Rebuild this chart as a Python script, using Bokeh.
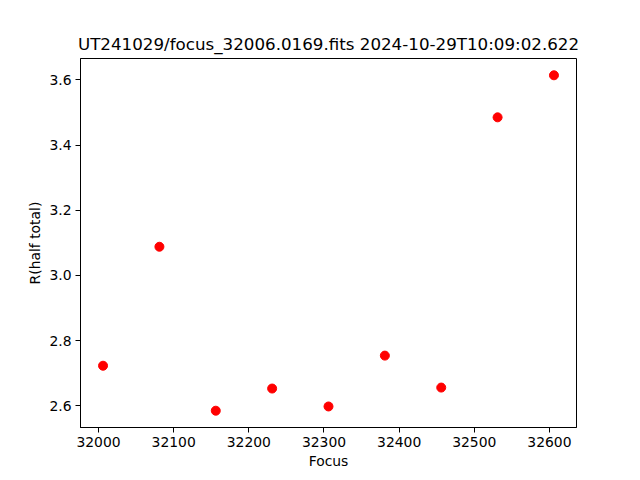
from bokeh.plotting import figure
from bokeh.models import FixedTicker, Range1d
from bokeh.embed import file_html
from bokeh.resources import INLINE

focus = [32006, 32081, 32156, 32231, 32306, 32381, 32456, 32531, 32606]
r_half = [2.723, 3.088, 2.585, 2.653, 2.598, 2.754, 2.656, 3.485, 3.614]
x_ticks = [32000, 32100, 32200, 32300, 32400, 32500, 32600]
y_ticks = [2.6, 2.8, 3.0, 3.2, 3.4, 3.6]
y_labels = {2.6: "2.6", 2.8: "2.8", 3.0: "3.0", 3.2: "3.2", 3.4: "3.4", 3.6: "3.6"}
title = "UT241029/focus_32006.0169.fits 2024-10-29T10:09:02.622"

FONT = "DejaVu Sans"

p = figure(width=624, height=472, output_backend="svg", toolbar_location=None,
           title=title, frame_width=496, frame_height=369,
           min_border_left=80, min_border_right=48, min_border_top=58, min_border_bottom=45,
           x_range=Range1d(31976, 32636), y_range=Range1d(2.5335, 3.6655))

p.scatter(focus, r_half, size=9, color="red", line_color="red")

p.title.align = "center"
p.title.text_font = FONT
p.title.text_font_size = "16.7px"
p.title.text_font_style = "normal"
p.title.text_color = "black"

p.xgrid.visible = False
p.ygrid.visible = False
p.outline_line_color = "black"
p.outline_line_width = 1
p.outline_line_alpha = 1

for ax in (p.xaxis[0], p.yaxis[0]):
    ax.major_label_text_font = FONT
    ax.major_label_text_font_size = "13.9px"
    ax.major_label_text_color = "black"
    ax.axis_label_text_font = FONT
    ax.axis_label_text_font_size = "13.9px"
    ax.axis_label_text_font_style = "normal"
    ax.axis_label_text_color = "black"
    ax.major_tick_out = 5
    ax.major_tick_in = 0
    ax.minor_tick_out = 0
    ax.minor_tick_in = 0
    ax.axis_line_color = "black"
    ax.major_tick_line_color = "black"

p.xaxis.ticker = FixedTicker(ticks=x_ticks)
p.yaxis.ticker = FixedTicker(ticks=y_ticks)
p.yaxis.major_label_overrides = y_labels
p.xaxis.axis_label = "Focus"
p.yaxis.axis_label = "R(half total)"
p.xaxis.major_label_standoff = 4
p.yaxis.major_label_standoff = 4
p.xaxis.axis_label_standoff = 3
p.yaxis.axis_label_standoff = 3
p.yaxis.major_label_orientation = "horizontal"

open("out.html", "w").write(file_html(p, INLINE))
